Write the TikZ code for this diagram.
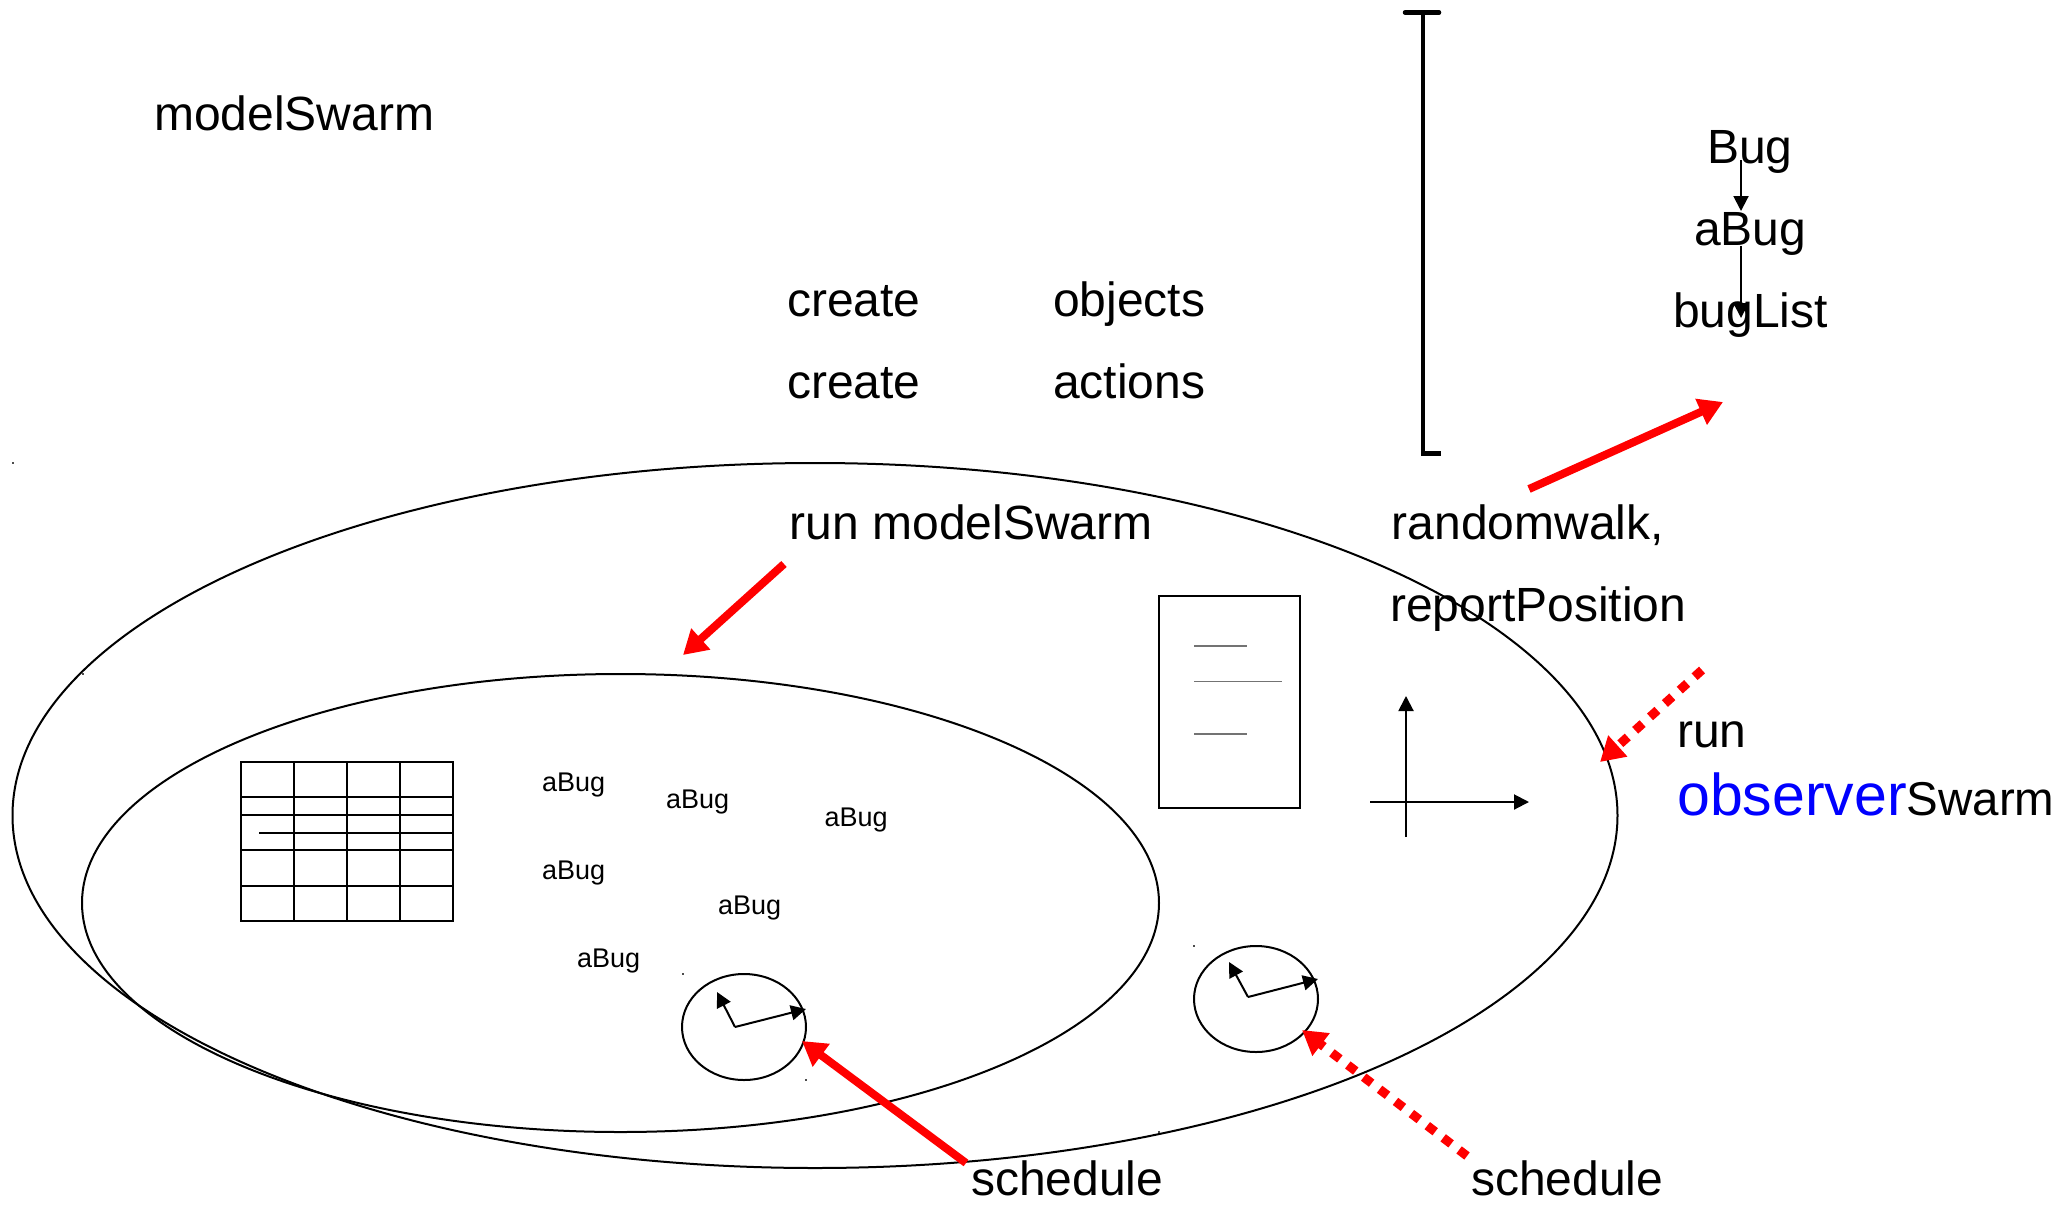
\documentclass[tikz,border=0pt]{standalone}
\usepackage{fontspec}
\setmainfont{Liberation Sans}
\usetikzlibrary{arrows.meta,shapes.geometric}
\tikzset{
  lbl/.style={anchor=base west,inner sep=0pt,font=\fontsize{48}{48}\selectfont},
  smalllbl/.style={anchor=base west,inner sep=0pt,font=\fontsize{27}{27}\selectfont},
  oval/.style={draw=black,line width=2pt,shape=ellipse,inner sep=0pt},
  thin line/.style={draw=black,line width=2pt},
  blackarrow/.style={draw=black,line width=2pt,-{Triangle[length=15pt,width=15pt]}},
  redarrow/.style={draw=red,line width=8pt,-{Triangle[length=24pt,width=27pt]}},
  reddash/.style={redarrow,line width=9pt,dash pattern=on 10pt off 10pt},
  speck/.style={fill=black!70,draw=none,shape=rectangle,inner sep=0pt,minimum size=1.5pt},
  textrule/.style={draw=black!55,line width=1.8pt}
}
\begin{document}
\begin{tikzpicture}[x=1pt,y=-1pt]
\useasboundingbox (0,0) rectangle (2067,1208);
% ellipses
\node[oval,minimum width=1605pt,minimum height=705pt] (outer) at (815,815.5) {};
\node[oval,minimum width=1077pt,minimum height=458pt] (inner) at (620.5,903) {};
% texts
\node[lbl] (title) at (154,130) {modelSwarm};
\node[lbl] (c1) at (787,316) {create};
\node[lbl] (o1) at (1053,316) {objects};
\node[lbl] (c2) at (787,398) {create};
\node[lbl] (a2) at (1053,398) {actions};
\node[lbl] (runm) at (789.5,539) {run modelSwarm};
\node[lbl] (rw) at (1391.5,539) {randomwalk,};
\node[lbl] (rp) at (1390,621) {reportPosition};
\node[lbl] (bug) at (1707,163) {Bug};
\node[lbl] (abug) at (1694,245) {aBug};
\node[lbl] (blist) at (1673,327) {bugList};
\node[lbl] (runo) at (1677,747) {run};
\node[lbl,anchor=base west] (obs) at (1677,815) {\fontsize{59}{59}\selectfont\textcolor{blue}{observer}\fontsize{47.5}{47.5}\selectfont Swarm};
\node[lbl] (s1) at (971,1195) {schedule};
\node[lbl] (s2) at (1471,1195) {schedule};
\node[smalllbl] (b1) at (542,791) {aBug};
\node[smalllbl] (b2) at (666,808) {aBug};
\node[smalllbl] (b3) at (824.5,826) {aBug};
\node[smalllbl] (b4) at (542,879) {aBug};
\node[smalllbl] (b5) at (718,914) {aBug};
\node[smalllbl] (b6) at (577,967) {aBug};
% bracket
\draw[line width=4.5pt,line cap=round] (1405,12.5) -- (1439,12.5);
\draw[line width=4.5pt] (1423,12.5) -- (1423,453.5) -- (1441,453.5);
% bug arrows
\coordinate (ba1) at (1741,160); \coordinate (ba2) at (1741,211);
\coordinate (ba3) at (1741,246); \coordinate (ba4) at (1741,318);
\draw[blackarrow] (ba1) -- (ba2);
\draw[blackarrow] (ba3) -- (ba4);
% table
\draw[thin line] (241,762) rectangle (453,921);
\foreach \x in {294,347,400} \draw[thin line] (\x,762) -- (\x,921);
\foreach \y in {797,815,850,886} \draw[thin line] (241,\y) -- (453,\y);
\draw[thin line] (259,833) -- (453,833);
% document
\node[draw=black,line width=2pt,minimum width=141pt,minimum height=212pt,inner sep=0pt] (doc) at (1229,702) {};
\draw[textrule] (1194,646) -- (1247,646);
\draw[textrule] (1194,681.5) -- (1282,681.5);
\draw[textrule] (1194,734) -- (1247,734);
% axes
\coordinate (xs) at (1370,802); \coordinate (xe) at (1529,802);
\coordinate (ys) at (1406,837); \coordinate (ye) at (1406,696);
\draw[blackarrow] (xs) -- (xe);
\draw[blackarrow] (ys) -- (ye);
% clocks
\node[oval,minimum width=124pt,minimum height=106pt] (clock1) at (744,1027) {};
\coordinate (c1c) at (735,1027); \coordinate (c1a) at (717,992); \coordinate (c1b) at (806,1009);
\draw[blackarrow] (c1c) -- (c1a);
\draw[blackarrow] (c1c) -- (c1b);
\node[oval,minimum width=124pt,minimum height=106pt] (clock2) at (1256,999) {};
\coordinate (c2c) at (1248,997); \coordinate (c2a) at (1229,962); \coordinate (c2b) at (1318,979);
\draw[blackarrow] (c2c) -- (c2a);
\draw[blackarrow] (c2c) -- (c2b);
% red arrows
\coordinate (r1s) at (1529,489); \coordinate (r1e) at (1723,402);
\coordinate (r2s) at (784,564); \coordinate (r2e) at (683,655);
\coordinate (r3s) at (1702,670); \coordinate (r3e) at (1600,762);
\coordinate (r4s) at (966,1163); \coordinate (r4e) at (802,1041);
\coordinate (r5s) at (1467,1156); \coordinate (r5e) at (1302,1030);
\draw[redarrow] (r1s) -- (r1e);
\draw[redarrow] (r2s) -- (r2e);
\draw[reddash] (r3s) -- (r3e);
\draw[redarrow] (r4s) -- (r4e);
\draw[reddash] (r5s) -- (r5e);
% specks
\node[speck] (d1) at (13,463) {};
\node[speck] (d2) at (83,674) {};
\node[speck] (d3) at (683,974) {};
\node[speck] (d4) at (806,1080) {};
\node[speck] (d5) at (1194,946) {};
\node[speck] (d6) at (1159,1132) {};
\end{tikzpicture}
\end{document}
